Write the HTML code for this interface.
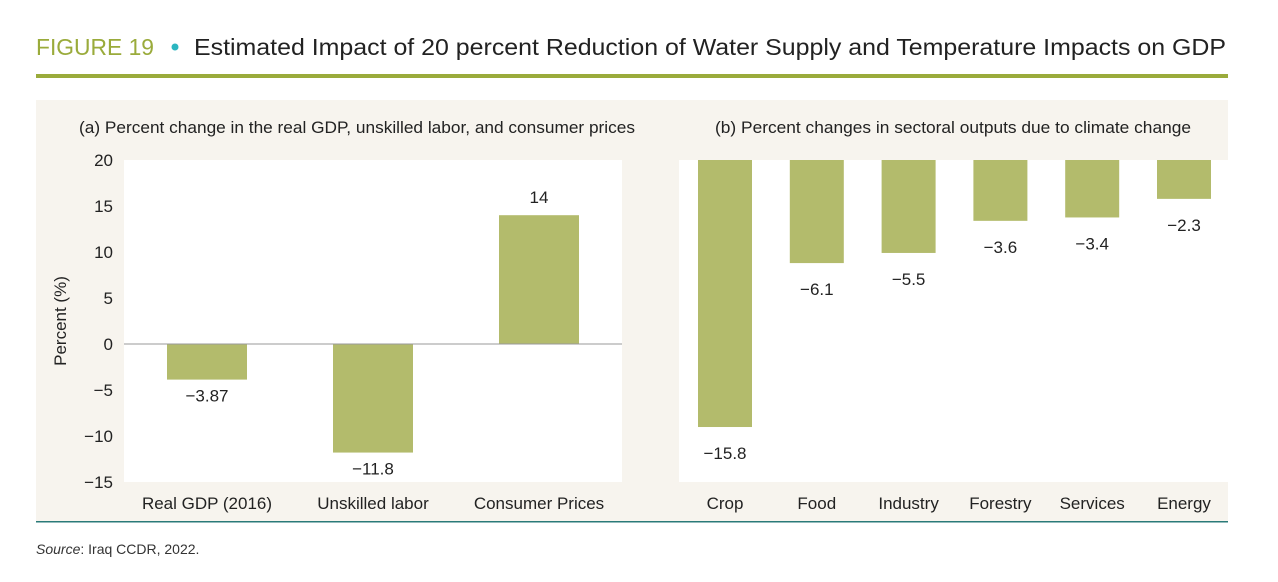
<!DOCTYPE html>
<html><head><meta charset="utf-8"><style>
body{margin:0;background:#fff;}
svg{display:block;font-family:"Liberation Sans Narrow","Liberation Sans",sans-serif;}
</style></head><body>
<svg id="c" width="1278" height="582" viewBox="0 0 1278 582">
<text x="36" y="55" font-size="23" fill="#9aab3b" textLength="118" lengthAdjust="spacingAndGlyphs">FIGURE 19</text>
<circle cx="175" cy="47" r="3.5" fill="#2bb6c0"/>
<text x="194" y="55" font-size="23" fill="#222" textLength="1032" lengthAdjust="spacingAndGlyphs">Estimated Impact of 20 percent Reduction of Water Supply and Temperature Impacts on GDP</text>
<rect x="36" y="74" width="1192" height="4" fill="#9aab3b"/>
<rect x="36" y="100" width="1192" height="421" fill="#f7f4ee"/>
<rect x="36" y="521" width="1192" height="1.5" fill="#2a7a78"/>
<text x="36" y="554" font-size="14" fill="#333"><tspan font-style="italic">Source</tspan>: Iraq CCDR, 2022.</text>
<text x="357" y="133" font-size="17" fill="#222" text-anchor="middle" textLength="556" lengthAdjust="spacingAndGlyphs">(a) Percent change in the real GDP, unskilled labor, and consumer prices</text>
<text x="953" y="133" font-size="17" fill="#222" text-anchor="middle" textLength="476" lengthAdjust="spacingAndGlyphs">(b) Percent changes in sectoral outputs due to climate change</text>
<rect x="124" y="160" width="498" height="322" fill="#fff"/>
<rect x="679" y="160" width="551" height="322" fill="#fff"/>
<text transform="translate(66,321) rotate(-90)" font-size="17" fill="#222" text-anchor="middle">Percent (%)</text>
<g id="ga"></g><g id="gb"></g>
</svg>
<script>
const catsA=["Real GDP (2016)","Unskilled labor","Consumer Prices"];
const valsA=[-3.87,-11.8,14];
const labelsA=["\u22123.87","\u221211.8","14"];
const ticksA=[20,15,10,5,0,-5,-10,-15];
const tickLabelsA=["20","15","10","5","0","\u22125","\u221210","\u221215"];
const catsB=["Crop","Food","Industry","Forestry","Services","Energy"];
const valsB=[-15.8,-6.1,-5.5,-3.6,-3.4,-2.3];
const labelsB=["\u221215.8","\u22126.1","\u22125.5","\u22123.6","\u22123.4","\u22122.3"];
const NS="http://www.w3.org/2000/svg";
function mk(p,t,a,txt){const e=document.createElementNS(NS,t);for(const k in a)e.setAttribute(k,a[k]);if(txt!==undefined)e.textContent=txt;p.appendChild(e);return e;}
const bar="#b3bb6c";
// Panel A
const ga=document.getElementById('ga');
const ayA=v=>160+(20-v)*(322/35);
const axA=i=>124+498/3*(i+0.5);
ticksA.forEach((t,i)=>{const e=mk(ga,'text',{x:113,y:ayA(t)+6,'font-size':17,fill:'#222','text-anchor':'end'},tickLabelsA[i]);

});
catsA.forEach((c,i)=>{const v=valsA[i];const y0=ayA(0),y1=ayA(v);
const r=mk(ga,'rect',{x:axA(i)-40,y:Math.min(y0,y1),width:80,height:Math.abs(y1-y0),fill:bar});


const ly=v>=0?y1-12:y1+22;
const l=mk(ga,'text',{x:axA(i),y:ly,'font-size':17,fill:'#222','text-anchor':'middle'},labelsA[i]);


const x=mk(ga,'text',{x:axA(i),y:509,'font-size':17,fill:'#222','text-anchor':'middle'},c);

});
const z=mk(ga,'line',{x1:124,x2:622,y1:ayA(0),y2:ayA(0),stroke:'#999','stroke-width':1});


// Panel B
const gb=document.getElementById('gb');
const ayB=v=>160-v*16.9;
const axB=i=>725+91.8*i;
catsB.forEach((c,i)=>{const v=valsB[i];const y0=ayB(0),y1=ayB(v);
const r=mk(gb,'rect',{x:axB(i)-27,y:Math.min(y0,y1),width:54,height:Math.abs(y1-y0),fill:bar});


const l=mk(gb,'text',{x:axB(i),y:y1+32,'font-size':17,fill:'#222','text-anchor':'middle'},labelsB[i]);


const x=mk(gb,'text',{x:axB(i),y:509,'font-size':17,fill:'#222','text-anchor':'middle'},c);

});
</script>
</body></html>
